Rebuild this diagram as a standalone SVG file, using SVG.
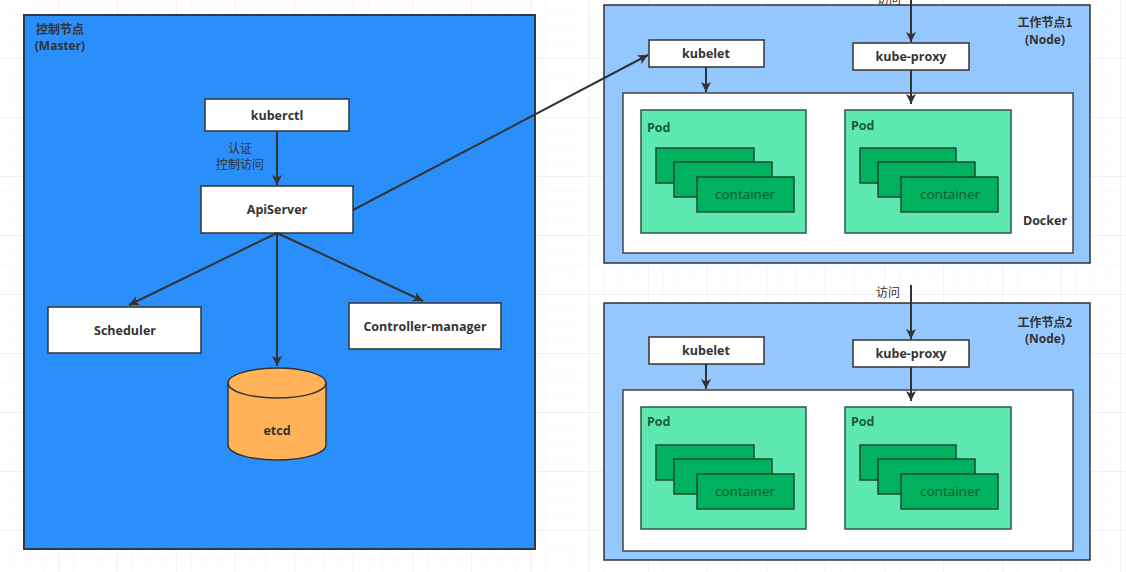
<svg xmlns="http://www.w3.org/2000/svg" width="1126" height="572" viewBox="0 0 1126 572">
<defs>
<pattern id="gminor" width="14.75" height="14.75" patternUnits="userSpaceOnUse">
<path d="M14.75 0V14.75H0" fill="none" stroke="#f3f3f3" stroke-width="1"/>
</pattern>
<pattern id="gmajor" width="59" height="59" patternUnits="userSpaceOnUse">
<path d="M59 0V59H0" fill="none" stroke="#e9e9e9" stroke-width="1"/>
</pattern>
<marker id="arr" viewBox="0 0 10 10" refX="10" refY="5" markerWidth="10" markerHeight="10" markerUnits="userSpaceOnUse" orient="auto">
<path d="M0 0L10 5L0 10L2.5 5Z" fill="#333"/>
</marker>
</defs>
<style>
.bx{fill:#fff;stroke:#333;stroke-width:1.5}
.t{font-family:"Open Sans","Liberation Sans","Noto Sans CJK SC",sans-serif;font-size:12.5px;font-weight:bold;fill:#333;text-anchor:middle}
.cn{font-family:"Noto Sans CJK SC","Liberation Sans",sans-serif;font-size:12px;fill:#333;text-anchor:middle}
.node{fill:#94c7fd;stroke:#333;stroke-width:1.5}
.dock{fill:#fff;stroke:#444;stroke-width:1.5}
.pod{fill:#5de8b2;stroke:#2d5a44;stroke-width:1.5}
.ct{fill:#00b15d;stroke:#1f4a33;stroke-width:1.5}
.ctt{font-family:"Open Sans","Liberation Sans",sans-serif;font-size:13.5px;fill:#0a5a32;text-anchor:middle}
.podt{font-family:"Open Sans","Liberation Sans",sans-serif;font-size:12.5px;font-weight:bold;fill:#1d5a3c}
.ln{stroke:#333;stroke-width:2;fill:none}
</style>
<rect width="1126" height="572" fill="#fff"/>
<rect width="1126" height="572" fill="url(#gminor)"/>
<rect width="1126" height="572" fill="url(#gmajor)"/>

<g id="master">
<rect x="24" y="15" width="511" height="534" fill="#2a8ffa" stroke="#2b3a4a" stroke-width="2"/>
<text class="cn" x="60" y="34" font-weight="bold" fill="#333">控制节点</text>
<text class="t" x="60" y="50" style="font-size:12px">(Master)</text>
</g>

<g id="kuberctl">
<rect class="bx" x="205" y="99" width="144" height="32"/>
<text class="t" x="277" y="120">kuberctl</text>
</g>
<g id="apiserver">
<rect class="bx" x="201" y="186" width="152" height="47"/>
<text class="t" x="277" y="214">ApiServer</text>
</g>
<g id="scheduler">
<rect class="bx" x="48" y="307" width="153" height="46"/>
<text class="t" x="125" y="335">Scheduler</text>
</g>
<g id="controller-manager">
<rect class="bx" x="349" y="303" width="152" height="46"/>
<text class="t" x="425" y="331">Controller-manager</text>
</g>
<g id="etcd">
<path d="M228 383V445A49 15 0 0 0 326 445V383" fill="#ffb257" stroke="#333" stroke-width="1.5"/>
<ellipse cx="277" cy="383" rx="49" ry="15" fill="#ffb257" stroke="#333" stroke-width="1.5"/>
<text class="t" x="277" y="435">etcd</text>
</g>

<g id="node1">
<rect class="node" x="604" y="5" width="486" height="258"/>
<text class="cn" x="1045" y="27" font-weight="bold">工作节点1</text>
<text class="t" x="1045" y="44" style="font-size:12px">(Node)</text>
</g>
<g id="docker1">
<rect class="dock" x="623" y="93" width="450" height="160"/>
<text class="t" x="1045" y="225">Docker</text>
</g>
<g id="kubelet1">
<rect class="bx" x="649" y="40" width="115" height="27"/>
<text class="t" x="706" y="58">kubelet</text>
</g>
<g id="kubeproxy1">
<rect class="bx" x="853" y="43" width="116" height="27"/>
<text class="t" x="911" y="61">kube-proxy</text>
</g>
<g id="pod1a">
<rect class="pod" x="641" y="110" width="165" height="123"/>
<text class="podt" x="647" y="132">Pod</text>
<rect class="ct" x="656" y="148" width="98" height="35"/>
<rect class="ct" x="674" y="162" width="98" height="35"/>
<rect class="ct" x="697" y="177" width="97" height="35"/>
<text class="ctt" x="745" y="199">container</text>
</g>
<g id="pod1b">
<rect class="pod" x="845" y="110" width="166" height="123"/>
<text class="podt" x="851" y="130">Pod</text>
<rect class="ct" x="860" y="148" width="96" height="35"/>
<rect class="ct" x="878" y="162" width="97" height="35"/>
<rect class="ct" x="901" y="177" width="97" height="35"/>
<text class="ctt" x="950" y="199">container</text>
</g>

<g id="node2">
<rect class="node" x="604" y="303" width="486" height="257"/>
<text class="cn" x="1045" y="327" font-weight="bold">工作节点2</text>
<text class="t" x="1045" y="343" style="font-size:12px">(Node)</text>
</g>
<g id="docker2">
<rect class="dock" x="623" y="390" width="450" height="161"/>
</g>
<g id="kubelet2">
<rect class="bx" x="649" y="337" width="115" height="27"/>
<text class="t" x="706" y="355">kubelet</text>
</g>
<g id="kubeproxy2">
<rect class="bx" x="853" y="340" width="116" height="27"/>
<text class="t" x="911" y="358">kube-proxy</text>
</g>
<g id="pod2a">
<rect class="pod" x="641" y="407" width="165" height="122"/>
<text class="podt" x="647" y="426">Pod</text>
<rect class="ct" x="656" y="445" width="98" height="35"/>
<rect class="ct" x="674" y="459" width="98" height="35"/>
<rect class="ct" x="697" y="474" width="97" height="35"/>
<text class="ctt" x="745" y="496">container</text>
</g>
<g id="pod2b">
<rect class="pod" x="845" y="407" width="166" height="122"/>
<text class="podt" x="851" y="426">Pod</text>
<rect class="ct" x="860" y="445" width="96" height="35"/>
<rect class="ct" x="878" y="459" width="97" height="35"/>
<rect class="ct" x="901" y="474" width="97" height="35"/>
<text class="ctt" x="950" y="496">container</text>
</g>

<g id="connectors">
<line class="ln" x1="277" y1="131" x2="277" y2="185" marker-end="url(#arr)"/>
<text class="cn" x="240" y="153">认证</text>
<text class="cn" x="240" y="169">控制访问</text>
<line class="ln" x1="277" y1="233" x2="129" y2="305" marker-end="url(#arr)"/>
<line class="ln" x1="277" y1="233" x2="277" y2="366" marker-end="url(#arr)"/>
<line class="ln" x1="277" y1="233" x2="423" y2="301" marker-end="url(#arr)"/>
<line class="ln" x1="353" y1="210" x2="648" y2="55" marker-end="url(#arr)"/>
<line class="ln" x1="911" y1="0" x2="911" y2="42" marker-end="url(#arr)"/>
<text class="cn" x="889" y="4">访问</text>
<line class="ln" x1="706" y1="67" x2="706" y2="92" marker-end="url(#arr)"/>
<line class="ln" x1="911" y1="70" x2="911" y2="104" marker-end="url(#arr)"/>
<line class="ln" x1="911" y1="285" x2="911" y2="339" marker-end="url(#arr)"/>
<text class="cn" x="888" y="297">访问</text>
<line class="ln" x1="706" y1="364" x2="706" y2="389" marker-end="url(#arr)"/>
<line class="ln" x1="911" y1="367" x2="911" y2="401" marker-end="url(#arr)"/>
</g>
</svg>
